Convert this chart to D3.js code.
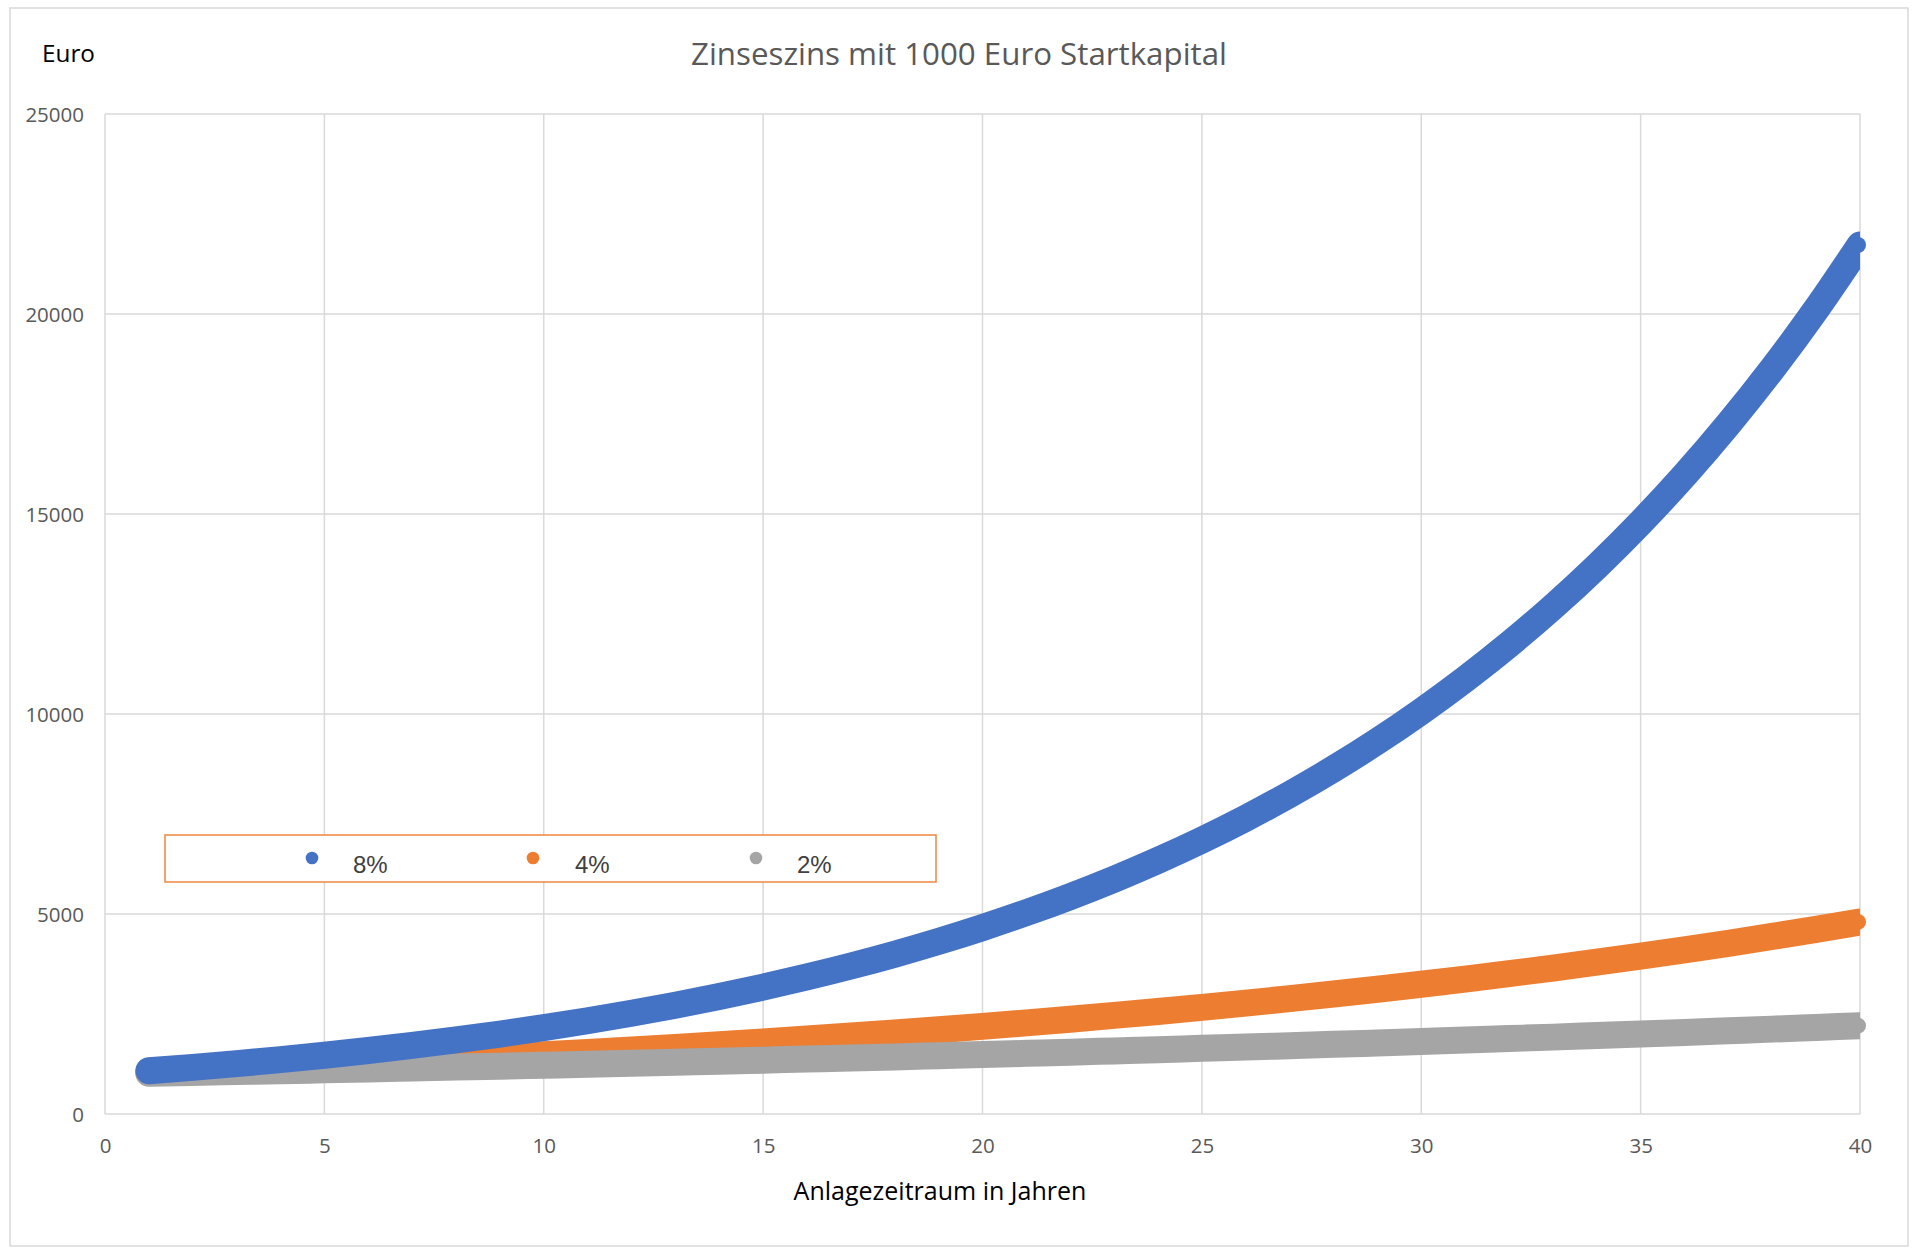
<!DOCTYPE html>
<html><head><meta charset="utf-8">
<script src="https://cdn.jsdelivr.net/npm/d3@7"></script>
<style>
html,body{margin:0;padding:0;background:#fff;}
svg{display:block;}
</style></head>
<body>
<svg id="chart" width="1920" height="1257"></svg>
<script>
// ---- data ----
const years = [1,2,3,4,5,6,7,8,9,10,11,12,13,14,15,16,17,18,19,20,21,22,23,24,25,26,27,28,29,30,31,32,33,34,35,36,37,38,39,40];
const seriesNames = ["8%", "4%", "2%"];
const values8 = [1080,1166,1260,1360,1469,1587,1714,1851,1999,2159,2332,2518,2720,2937,3172,3426,3700,3996,4316,4661,5034,5437,5871,6341,6848,7396,7988,8627,9317,10063,10868,11737,12676,13690,14785,15968,17246,18625,20115,21725];
const values4 = [1040,1082,1125,1170,1217,1265,1316,1369,1423,1480,1539,1601,1665,1732,1801,1873,1948,2026,2107,2191,2279,2370,2465,2563,2666,2772,2883,2999,3119,3243,3373,3508,3648,3794,3946,4104,4268,4439,4616,4801];
const values2 = [1020,1040,1061,1082,1104,1126,1149,1172,1195,1219,1243,1268,1294,1319,1346,1373,1400,1428,1457,1486,1516,1546,1577,1608,1641,1673,1707,1741,1776,1811,1848,1885,1922,1961,2000,2040,2081,2122,2165,2208];
const xTicks = [0,5,10,15,20,25,30,35,40];
const yTicks = [0,5000,10000,15000,20000,25000];
const title = "Zinseszins mit 1000 Euro Startkapital";
const yTitle = "Euro";
const xTitle = "Anlagezeitraum in Jahren";

// ---- layout / style ----
const colors = {"8%":"#4472C4","4%":"#ED7D31","2%":"#A5A5A5"};
const plot = {left:105, right:1860, top:114, bottom:1114};
const FONT = "'Open Sans', sans-serif";

const svg = d3.select("#chart");
const x = d3.scaleLinear().domain([0,40]).range([plot.left, plot.right]);
const y = d3.scaleLinear().domain([0,25000]).range([plot.bottom, plot.top]);

// outer border
svg.append("rect").attr("x",10).attr("y",8).attr("width",1898).attr("height",1238)
  .attr("fill","#fff").attr("stroke","#D9D9D9").attr("stroke-width",1.5);

// gridlines
const grid = svg.append("g");
grid.selectAll("line.h").data(yTicks).join("line")
  .attr("x1",plot.left).attr("x2",plot.right)
  .attr("y1",d=>y(d)).attr("y2",d=>y(d))
  .attr("stroke","#D9D9D9").attr("stroke-width",1.5);
grid.selectAll("line.v").data(xTicks).join("line")
  .attr("y1",plot.top).attr("y2",plot.bottom)
  .attr("x1",d=>x(d)).attr("x2",d=>x(d))
  .attr("stroke","#D9D9D9").attr("stroke-width",1.5);

// axes labels via d3 axes
const xAxis = svg.append("g").attr("transform",`translate(0,${plot.bottom})`)
  .call(d3.axisBottom(x).tickValues(xTicks).tickSize(0).tickPadding(0).tickFormat(d3.format("d")));
xAxis.select(".domain").remove();
xAxis.selectAll("text").attr("dy",null).attr("y",39).attr("font-family",FONT).attr("font-size",20.5).attr("fill","#595959");

const yAxis = svg.append("g").attr("transform",`translate(84,0)`)
  .call(d3.axisLeft(y).tickValues(yTicks).tickSize(0).tickPadding(0).tickFormat(d3.format("d")));
yAxis.select(".domain").remove();
yAxis.selectAll("text").attr("x",0).attr("dy","0.36em").attr("font-family",FONT).attr("font-size",20.5).attr("fill","#595959");

// clip
svg.append("clipPath").attr("id","pc").append("rect")
  .attr("x",plot.left).attr("y",plot.top-20).attr("width",plot.right-plot.left).attr("height",plot.bottom-plot.top+40);

const series = [
  {name:"4%", vals:values4},
  {name:"2%", vals:values2},
  {name:"8%", vals:values8}
];
const line = d3.line().x(d=>x(d[0])).y(d=>y(d[1])).curve(d3.curveMonotoneX);
const marks = svg.append("g");
series.forEach(s=>{
  const pts = years.map((t,i)=>[t, s.vals[i]]);
  marks.append("path").datum(pts)
    .attr("d",line).attr("fill","none")
    .attr("stroke",colors[s.name]).attr("stroke-width",27)
    .attr("stroke-linecap","round").attr("stroke-linejoin","round")
    .attr("clip-path","url(#pc)");
  const last = pts[pts.length-1];
  marks.append("circle").attr("cx",x(last[0])-2).attr("cy",y(last[1])).attr("r",8)
    .attr("fill",colors[s.name]);
});

// helper: fit text to width
function fitText(sel, targetW){
  const w = sel.node().getComputedTextLength();
  const fs = parseFloat(sel.attr("font-size"));
  sel.attr("font-size", fs*targetW/w);
}

// title
const t = svg.append("text").attr("x",959).attr("y",65).attr("text-anchor","middle")
  .attr("font-family",FONT).attr("font-size",30).attr("fill","#595959").text(title);
fitText(t,536);

// y title
const yt = svg.append("text").attr("x",42).attr("y",62).attr("font-family",FONT)
  .attr("font-size",22).attr("fill","#000").text(yTitle);
fitText(yt,53);

// x title
const xt = svg.append("text").attr("x",940).attr("y",1200).attr("text-anchor","middle")
  .attr("font-family",FONT).attr("font-size",24).attr("fill","#000").text(xTitle);
fitText(xt,293);

// legend
const lg = svg.append("g");
lg.append("rect").attr("x",165).attr("y",835).attr("width",771).attr("height",47)
  .attr("fill","#fff").attr("stroke","#F0873F").attr("stroke-width",1.5);
const legendPos = [{m:312,t:353},{m:533,t:575},{m:756,t:797}];
seriesNames.forEach((n,i)=>{
  lg.append("circle").attr("cx",legendPos[i].m).attr("cy",858).attr("r",6.3).attr("fill",colors[n]);
  lg.append("text").attr("x",legendPos[i].t).attr("y",873)
    .attr("font-family","'Liberation Sans', Arial, sans-serif").attr("font-size",24)
    .attr("fill","#404040").text(n);
});
</script>
</body></html>
